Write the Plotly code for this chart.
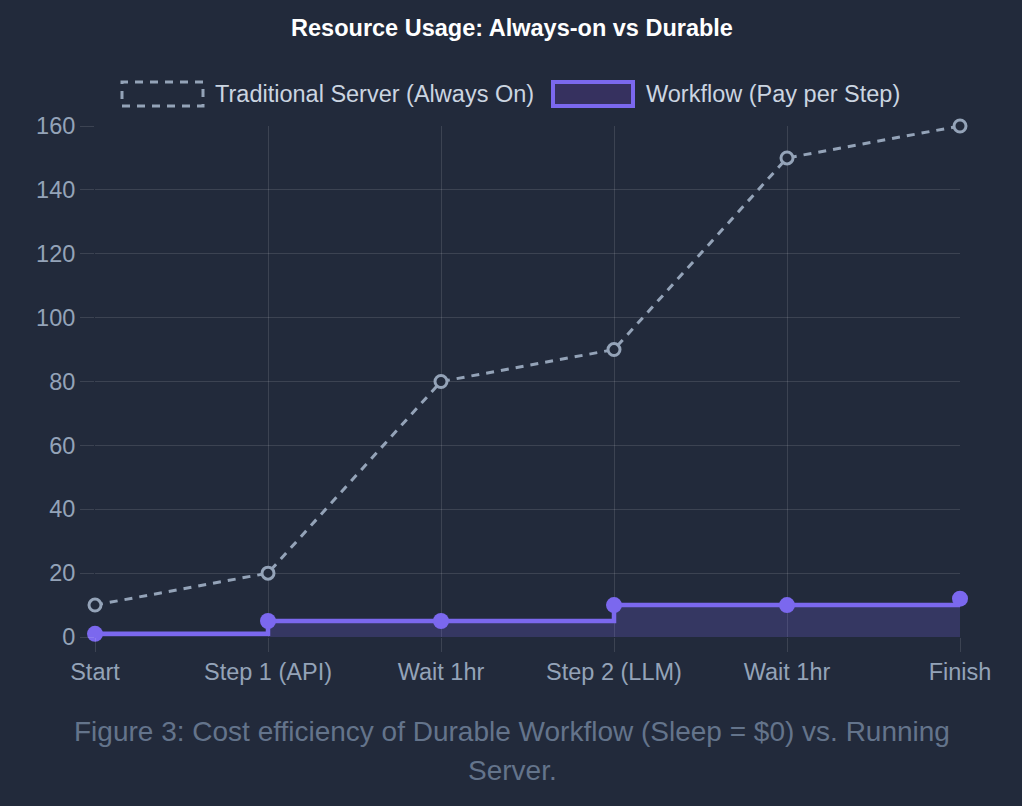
import plotly.graph_objects as go

categories = ["Start", "Step 1 (API)", "Wait 1hr", "Step 2 (LLM)", "Wait 1hr", "Finish"]
traditional = [10, 20, 80, 90, 150, 160]
workflow = [1, 5, 5, 10, 10, 12]
y_ticks = [0, 20, 40, 60, 80, 100, 120, 140, 160]
caption_lines = ["Figure 3: Cost efficiency of Durable Workflow (Sleep = $0) vs. Running", "Server."]

BG = "#222a3b"
GRID = "rgba(255,255,255,0.12)"
TRAD = "#94a3b8"
PURPLE = "#7b68ee"
FILL = "rgba(123,104,238,0.22)"
FONT = "Liberation Sans, Arial, sans-serif"
TICK_SIZE = 23.5

x = list(range(len(categories)))

fig = go.Figure()
fig.add_trace(go.Scatter(
    x=x, y=workflow, mode="lines+markers", name="Workflow (Pay per Step)",
    line=dict(color=PURPLE, width=4.5, shape="hv"),
    fill="tozeroy", fillcolor=FILL,
    marker=dict(size=16, color=PURPLE, line=dict(color=PURPLE, width=0)),
    cliponaxis=False,
))
fig.add_trace(go.Scatter(
    x=x, y=traditional, mode="lines+markers", name="Traditional Server (Always On)",
    line=dict(color=TRAD, width=3, dash="8px,7px"),
    marker=dict(size=12, color=BG, line=dict(color=TRAD, width=3)),
    cliponaxis=False,
))

W, H = 1022, 806
L, R, T, B = 95, 62, 126, 169

def px(xp):
    return (xp - L) / (W - L - R)

def py(yp):
    return (H - B - yp) / (H - T - B)

shapes = [
    dict(type="rect", xref="paper", yref="paper",
         x0=px(122), x1=px(203), y0=py(106), y1=py(82),
         line=dict(color=TRAD, width=3, dash="8px,7px"), fillcolor="rgba(0,0,0,0)"),
    dict(type="rect", xref="paper", yref="paper",
         x0=px(553), x1=px(633), y0=py(106), y1=py(82),
         line=dict(color=PURPLE, width=4), fillcolor="#36315f"),
]
annotations = [
    dict(text="Traditional Server (Always On)", xref="paper", yref="paper",
         x=px(213), y=py(94), xanchor="left", yanchor="middle", showarrow=False,
         font=dict(family=FONT, size=TICK_SIZE, color="#cbd5e1")),
    dict(text="Workflow (Pay per Step)", xref="paper", yref="paper",
         x=px(644), y=py(94), xanchor="left", yanchor="middle", showarrow=False,
         font=dict(family=FONT, size=TICK_SIZE, color="#cbd5e1")),
]
for line_text, ypos in zip(caption_lines, [731, 770]):
    annotations.append(dict(
        text=line_text, xref="paper", yref="paper", x=px(512), y=py(ypos),
        xanchor="center", yanchor="middle", showarrow=False,
        font=dict(family=FONT, size=28, color="#64748b")))

fig.update_layout(
    width=W, height=H,
    paper_bgcolor=BG, plot_bgcolor=BG,
    margin=dict(l=L, r=R, t=T, b=B),
    showlegend=False,
    title=dict(text="<b>Resource Usage: Always-on vs Durable</b>", x=px(512), xref="paper",
               xanchor="center",
               y=1 - 28 / H, yanchor="middle",
               font=dict(family=FONT, size=23.5, color="#ffffff")),
    shapes=shapes, annotations=annotations,
    font=dict(family=FONT, size=TICK_SIZE, color=TRAD),
)
fig.update_xaxes(
    range=[0, len(categories) - 1], tickmode="array", tickvals=x, ticktext=categories,
    showgrid=True, gridcolor=GRID, gridwidth=1, zeroline=False, showline=False,
    ticks="outside", ticklen=14, tickcolor=GRID,
    tickfont=dict(family=FONT, size=TICK_SIZE, color=TRAD),
)
fig.update_yaxes(
    range=[0, 160], tickmode="array", tickvals=y_ticks,
    showgrid=True, gridcolor=GRID, gridwidth=1, zeroline=False, showline=False,
    ticks="outside", ticklen=14, tickcolor=GRID,
    tickfont=dict(family=FONT, size=TICK_SIZE, color=TRAD),
)

fig.write_html(
    "out.html",
    config={"displayModeBar": False},
    post_script="document.body.style.margin='0';document.body.style.background='" + BG + "';",
)
